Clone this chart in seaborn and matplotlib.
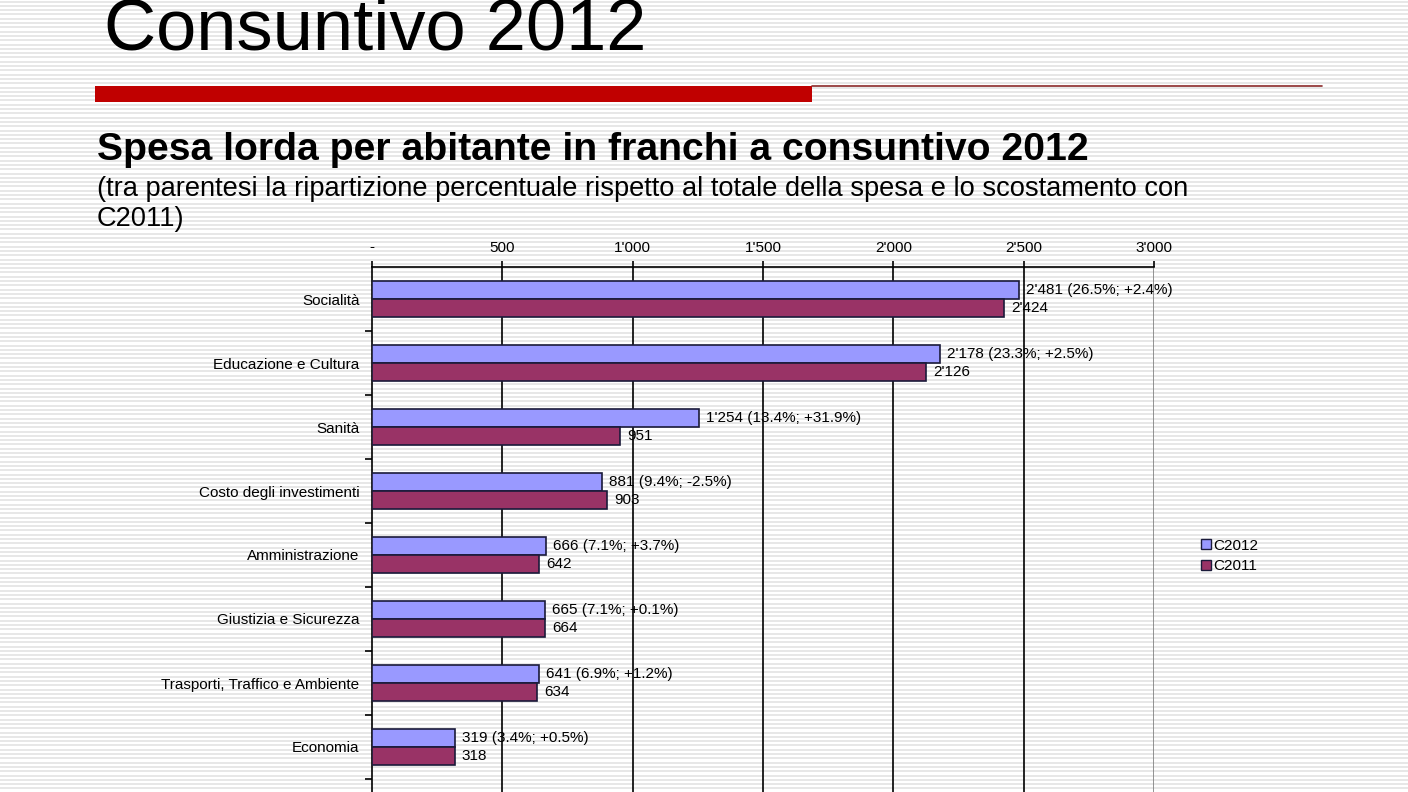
import numpy as np
import pandas as pd
import seaborn as sns
import matplotlib
matplotlib.use("Agg")
import matplotlib.pyplot as plt
from matplotlib.lines import Line2D

# data
categorie = ["Socialità", "Educazione e Cultura", "Sanità", "Costo degli investimenti",
             "Amministrazione", "Giustizia e Sicurezza", "Trasporti, Traffico e Ambiente", "Economia"]
c2012 = [2481, 2178, 1254, 881, 666, 665, 641, 319]
c2011 = [2424, 2126, 951, 903, 642, 664, 634, 318]
quota = ["26.5%", "23.3%", "13.4%", "9.4%", "7.1%", "7.1%", "6.9%", "3.4%"]
scostamento = ["+2.4%", "+2.5%", "+31.9%", "-2.5%", "+3.7%", "+0.1%", "+1.2%", "+0.5%"]
x_ticks = [0, 500, 1000, 1500, 2000, 2500, 3000]
x_ticklabels = ["-", "500", "1'000", "1'500", "2'000", "2'500", "3'000"]
serie = ["C2012", "C2011"]
colori = {"C2012": "#9999ff", "C2011": "#993366"}


def fmt(v):
    return f"{v:,}".replace(",", "'")


df = pd.DataFrame({
    "categoria": categorie * 2,
    "valore": c2012 + c2011,
    "serie": ["C2012"] * len(categorie) + ["C2011"] * len(categorie),
})

sns.set_style("white")
plt.rcParams["font.family"] = ["Liberation Sans", "DejaVu Sans"]
plt.rcParams["text.color"] = "black"
plt.rcParams["xtick.color"] = "black"
plt.rcParams["ytick.color"] = "black"
plt.rcParams["axes.edgecolor"] = "black"

fig = plt.figure(figsize=(14.08, 7.92), dpi=100)

# striped slide background
bg = fig.add_axes([0, 0, 1, 1], zorder=-10)
bg.set_xlim(0, 1408)
bg.set_ylim(792, 0)
bg.hlines(np.arange(1.5, 792, 4.3), 0, 1408, color="#e0e0e0", linewidth=1.1, zorder=1)
bg.axis("off")

# title, red rule, headings
fig.text(104 / 1408, 1 - 50 / 792, "Consuntivo 2012", fontsize=52, va="baseline")
bg.fill_between([95, 812], 86, 102, color="#c00000", linewidth=0, zorder=5)
bg.plot([812, 1322], [85.5, 85.5], color="#8b2a2a", linewidth=1.2, zorder=5)
fig.text(97 / 1408, 1 - 160 / 792, "Spesa lorda per abitante in franchi a consuntivo 2012",
         fontsize=28.2, fontweight="bold", va="baseline")
fig.text(97 / 1408, 1 - 196 / 792,
         "(tra parentesi la ripartizione percentuale rispetto al totale della spesa e lo scostamento con",
         fontsize=19.6, va="baseline")
fig.text(97 / 1408, 1 - 226 / 792, "C2011)", fontsize=19.6, va="baseline")

# chart axes, extends past the bottom of the slide
ax = fig.add_axes([372 / 1408, 1 - 843 / 792, (1154 - 372) / 1408, (843 - 267) / 792])
ax.patch.set_alpha(0)
sns.barplot(data=df, y="categoria", x="valore", hue="serie", palette=colori,
            orient="h", width=0.5625, saturation=1, edgecolor="#1a1a3a", linewidth=1.2,
            legend=False, ax=ax, zorder=3)

ax.set_xlim(0, 3000)
ax.set_ylim(8.5, -0.5)
ax.xaxis.tick_top()
ax.set_xticks(x_ticks)
ax.set_xticklabels(x_ticklabels, fontsize=11)
ax.tick_params(axis="x", direction="out", length=4, width=1.2, pad=5)
ax.set_yticks(range(len(categorie)))
ax.set_yticklabels(categorie, fontsize=11)
ax.set_yticks(np.arange(0.5, 8.5, 1), minor=True)
ax.tick_params(axis="y", which="major", left=True, length=0, pad=9)
ax.tick_params(axis="y", which="minor", left=True, direction="out", length=5, width=1.2)
ax.set_xlabel("")
ax.set_ylabel("")

for x in x_ticks[1:-1]:
    ax.axvline(x, color="black", linewidth=1.2, zorder=1)
ax.axvline(3000, color="#808080", linewidth=1.2, zorder=1)

for side in ["bottom", "right"]:
    ax.spines[side].set_visible(False)
ax.spines["top"].set_linewidth(1.2)
ax.spines["left"].set_linewidth(1.2)

lab2012 = [f"{fmt(v)} ({q}; {s})" for v, q, s in zip(c2012, quota, scostamento)]
lab2011 = [fmt(v) for v in c2011]
ax.bar_label(ax.containers[0], labels=lab2012, padding=5, fontsize=11, zorder=4)
ax.bar_label(ax.containers[1], labels=lab2011, padding=5, fontsize=11, zorder=4)

handles = [Line2D([], [], marker="s", linestyle="", markersize=7, markerfacecolor=colori[s],
                  markeredgecolor="#1a1a3a", label=s) for s in serie]
fig.legend(handles=handles, loc="center left", bbox_to_anchor=(1186 / 1408, 1 - 556 / 792),
           frameon=False, fontsize=11, handletextpad=0.1, labelspacing=0.45, handlelength=0.8)

fig.savefig("out.png", dpi=100)
